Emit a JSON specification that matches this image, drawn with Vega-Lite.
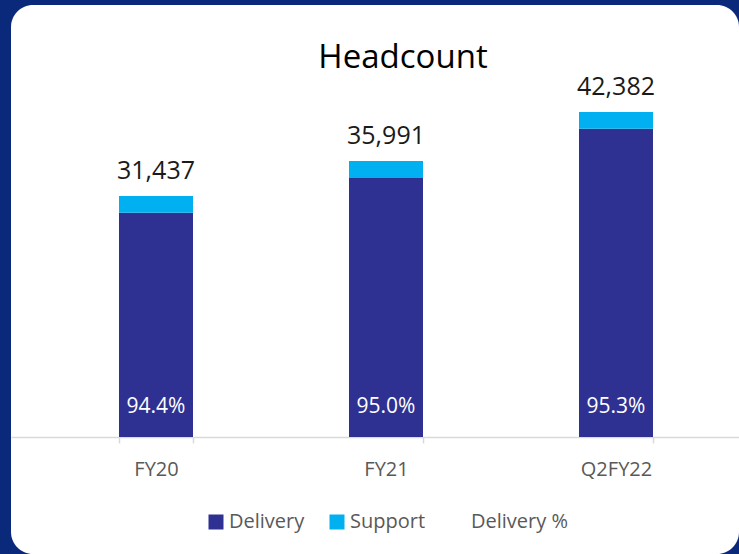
{
  "$schema": "https://vega.github.io/schema/vega-lite/v6.json",
  "width": 728,
  "height": 549,
  "autosize": {"type": "none"},
  "padding": {"left": 11, "top": 5, "right": 0, "bottom": 0},
  "background": "#0b297a",
  "config": {
    "view": {"fill": "#ffffff", "stroke": null, "cornerRadius": 22},
    "font": "Open Sans"
  },
  "title": {
    "text": "Headcount",
    "fontSize": 33,
    "fontWeight": "normal",
    "color": "#000000",
    "anchor": "middle",
    "frame": "group",
    "offset": -96,
    "baseline": "alphabetic",
    "dx": 28
  },
  "datasets": {
    "bars": [
      {"category": "FY20", "series": "Delivery", "value": 29237},
      {"category": "FY20", "series": "Support", "value": 2200},
      {"category": "FY21", "series": "Delivery", "value": 33791},
      {"category": "FY21", "series": "Support", "value": 2200},
      {"category": "Q2FY22", "series": "Delivery", "value": 40182},
      {"category": "Q2FY22", "series": "Support", "value": 2200}
    ],
    "totals": [
      {"category": "FY20", "total": 31437, "pct": "94.4%"},
      {"category": "FY21", "total": 35991, "pct": "95.0%"},
      {"category": "Q2FY22", "total": 42382, "pct": "95.3%"}
    ]
  },
  "layer": [
    {
      "data": {"name": "bars"},
      "mark": {"type": "bar"},
      "encoding": {
        "x": {
          "field": "category",
          "type": "nominal",
          "sort": ["FY20", "FY21", "Q2FY22"],
          "scale": {"paddingInner": 0.67826, "paddingOuter": 0.42174, "align": 0.5567, "round": false},
          "axis": {
            "title": null,
            "labelAngle": 0,
            "tickBand": "extent",
            "offset": -117,
            "domainColor": "#d9d9d9",
            "domainWidth": 1.5,
            "tickColor": "#d9d9d9",
            "tickWidth": 1.5,
            "tickSize": 6,
            "labelFontSize": 20,
            "labelColor": "#595959",
            "labelPadding": 16,
            "grid": false
          }
        },
        "y": {
          "field": "value",
          "type": "quantitative",
          "stack": "zero",
          "scale": {"domain": [-15258, 56336], "nice": false, "zero": false},
          "axis": null
        },
        "color": {
          "field": "series",
          "type": "nominal",
          "scale": {"domain": ["Delivery", "Support", "Delivery %"], "range": ["#2E3192", "#00B0F0", "#ffffff"]},
          "legend": {
            "orient": "none",
            "legendX": 195,
            "legendY": 507,
            "direction": "horizontal",
            "title": null,
            "symbolType": "square",
            "symbolSize": 225,
            "symbolStrokeWidth": 0,
            "symbolOpacity": 1,
            "labelFontSize": 20,
            "labelColor": "#595959",
            "labelOffset": 3,
            "columnPadding": 22,
            "padding": 0
          }
        },
        "order": {"field": "series", "sort": "ascending"}
      }
    },
    {
      "data": {"name": "totals"},
      "mark": {"type": "text", "fontSize": 25, "dy": -17, "baseline": "alphabetic", "color": "#1a1a1a"},
      "encoding": {
        "x": {"field": "category", "type": "nominal", "sort": ["FY20", "FY21", "Q2FY22"]},
        "y": {"field": "total", "type": "quantitative", "scale": {"domain": [-15258, 56336], "nice": false, "zero": false}},
        "text": {"field": "total", "type": "quantitative", "format": ","}
      }
    },
    {
      "data": {"name": "totals"},
      "mark": {"type": "text", "fontSize": 21, "dy": -24, "baseline": "alphabetic", "color": "#ffffff"},
      "encoding": {
        "x": {"field": "category", "type": "nominal", "sort": ["FY20", "FY21", "Q2FY22"]},
        "y": {"datum": 0, "type": "quantitative"},
        "text": {"field": "pct", "type": "nominal"}
      }
    }
  ]
}
